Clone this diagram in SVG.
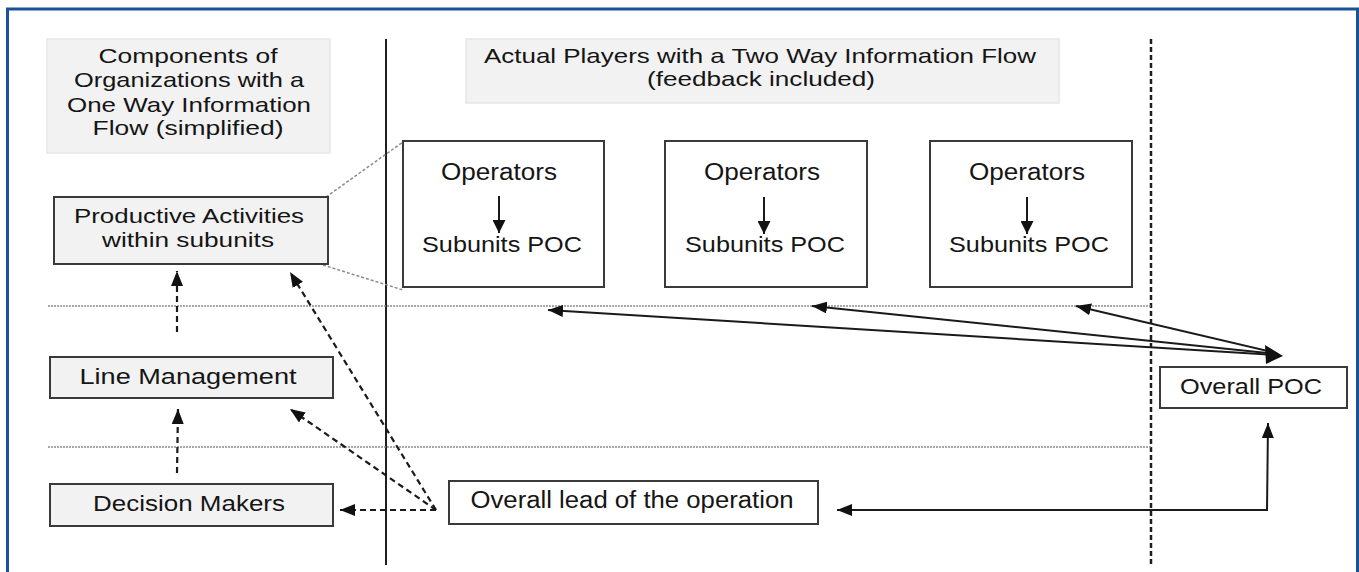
<svg xmlns="http://www.w3.org/2000/svg" width="1359" height="572" viewBox="0 0 1359 572">
<defs>
<style>
text{font-family:"Liberation Sans",Arial,sans-serif;fill:#151515;text-anchor:middle}
.hdr{fill:#f2f2f2;stroke:#e6e6e6;stroke-width:1.5}
.gbox{fill:#f2f2f2;stroke:#3a3a3a;stroke-width:2}
.wbox{fill:#ffffff;stroke:#3a3a3a;stroke-width:2}
.solid{stroke:#1a1a1a;stroke-width:2;fill:none}
.dash{stroke:#1a1a1a;stroke-width:2.2;fill:none;stroke-dasharray:6 4}
.dot{stroke:#8a8a8a;stroke-width:1.5;stroke-dasharray:2 1;fill:none}
.zoom{stroke:#8a8a8a;stroke-width:1.5;stroke-dasharray:3 2;fill:none}
</style>
<marker id="ah" viewBox="0 0 15 12" refX="15" refY="6" markerWidth="15" markerHeight="12" markerUnits="userSpaceOnUse" orient="auto">
<path d="M0,0 L15,6 L0,12 Z" fill="#111"/>
</marker>
<marker id="ahs" viewBox="0 0 13 13" refX="13" refY="6.5" markerWidth="13" markerHeight="13" markerUnits="userSpaceOnUse" orient="auto">
<path d="M0,0 L13,6.5 L0,13 Z" fill="#111"/>
</marker>
</defs>
<rect x="0" y="0" width="1359" height="572" fill="#ffffff"/>
<!-- frame -->
<path d="M7.5,580 L7.5,9 L1357.5,9 L1357.5,580" fill="none" stroke="#1a5296" stroke-width="3"/>

<!-- guide lines -->
<g id="guides">
<line x1="386" y1="39" x2="386" y2="565" stroke="#1e1e1e" stroke-width="2"/>
<line x1="1151" y1="39" x2="1151" y2="565" stroke="#1e1e1e" stroke-width="2.5" stroke-dasharray="5 3"/>
<line class="dot" x1="48" y1="306" x2="1151" y2="306"/>
<line class="dot" x1="48" y1="447" x2="1151" y2="447"/>
<line class="zoom" x1="326" y1="197" x2="403" y2="142"/>
<line class="zoom" x1="323" y1="265" x2="403" y2="290"/>
</g>

<!-- headers -->
<g id="header-left">
<rect class="hdr" x="47" y="39" width="283" height="114"/>
<text x="188" y="63" font-size="21" textLength="179" lengthAdjust="spacingAndGlyphs">Components of</text>
<text x="189" y="87" font-size="21" textLength="230" lengthAdjust="spacingAndGlyphs">Organizations with a</text>
<text x="189" y="112" font-size="21" textLength="244" lengthAdjust="spacingAndGlyphs">One Way Information</text>
<text x="188" y="135" font-size="21" textLength="191" lengthAdjust="spacingAndGlyphs">Flow (simplified)</text>
</g>
<g id="header-right">
<rect class="hdr" x="466" y="39" width="593" height="64"/>
<text x="760" y="63" font-size="21" textLength="552" lengthAdjust="spacingAndGlyphs">Actual Players with a Two Way Information Flow</text>
<text x="761" y="86" font-size="21" textLength="228" lengthAdjust="spacingAndGlyphs">(feedback included)</text>
</g>

<!-- left nodes -->
<g id="productive">
<rect class="gbox" x="54" y="197" width="274" height="67"/>
<text x="189" y="223" font-size="21" textLength="230" lengthAdjust="spacingAndGlyphs">Productive Activities</text>
<text x="188" y="247" font-size="21" textLength="172" lengthAdjust="spacingAndGlyphs">within subunits</text>
</g>
<g id="line-management">
<rect class="gbox" x="50" y="357" width="283" height="41"/>
<text x="188" y="384" font-size="22" textLength="217" lengthAdjust="spacingAndGlyphs">Line  Management</text>
</g>
<g id="decision-makers">
<rect class="gbox" x="50" y="484" width="283" height="42"/>
<text x="189" y="511" font-size="22" textLength="192" lengthAdjust="spacingAndGlyphs">Decision Makers</text>
</g>

<!-- operator boxes -->
<g id="op1">
<rect class="wbox" x="403" y="141" width="201" height="146"/>
<text x="499" y="180" font-size="23" textLength="116" lengthAdjust="spacingAndGlyphs">Operators</text>
<line class="solid" x1="499" y1="196" x2="499" y2="233" marker-end="url(#ahs)"/>
<text x="502" y="252" font-size="22" textLength="160" lengthAdjust="spacingAndGlyphs">Subunits POC</text>
</g>
<g id="op2">
<rect class="wbox" x="665" y="141" width="202" height="146"/>
<text x="762" y="180" font-size="23" textLength="116" lengthAdjust="spacingAndGlyphs">Operators</text>
<line class="solid" x1="764" y1="197" x2="764" y2="234" marker-end="url(#ahs)"/>
<text x="765" y="252" font-size="22" textLength="160" lengthAdjust="spacingAndGlyphs">Subunits POC</text>
</g>
<g id="op3">
<rect class="wbox" x="930" y="141" width="202" height="146"/>
<text x="1027" y="180" font-size="23" textLength="116" lengthAdjust="spacingAndGlyphs">Operators</text>
<line class="solid" x1="1027" y1="197" x2="1027" y2="234" marker-end="url(#ahs)"/>
<text x="1029" y="252" font-size="22" textLength="160" lengthAdjust="spacingAndGlyphs">Subunits POC</text>
</g>

<!-- right nodes -->
<g id="overall-poc">
<rect class="wbox" x="1160" y="367" width="187" height="41"/>
<text x="1251" y="394" font-size="22" textLength="142" lengthAdjust="spacingAndGlyphs">Overall POC</text>
</g>
<g id="overall-lead">
<rect class="wbox" x="449" y="481" width="369" height="43"/>
<text x="632" y="508" font-size="23" textLength="323" lengthAdjust="spacingAndGlyphs">Overall lead of the operation</text>
</g>

<!-- connectors -->
<g id="connectors">
<line class="dash" x1="177" y1="332" x2="177" y2="271" marker-end="url(#ah)"/>
<line class="dash" x1="177" y1="473" x2="178" y2="409" marker-end="url(#ah)"/>
<line class="dash" x1="436" y1="510" x2="340" y2="510" marker-end="url(#ah)"/>
<line class="dash" x1="436" y1="510" x2="290" y2="409" marker-end="url(#ah)"/>
<line class="dash" x1="436" y1="510" x2="290" y2="272" marker-end="url(#ah)"/>
<line class="solid" x1="1276" y1="355" x2="548" y2="310" marker-end="url(#ah)"/>
<line class="solid" x1="1276" y1="354" x2="812" y2="306" marker-end="url(#ah)"/>
<line class="solid" x1="1276" y1="353" x2="1076" y2="306" marker-end="url(#ah)"/>
<path d="M1283,356 L1265,345 L1266,364 Z" fill="#111"/>
<polyline class="solid" points="1267,510 1268,423" marker-end="url(#ah)"/>
<polyline class="solid" points="1268,510 837,510" marker-end="url(#ah)"/>
</g>
</svg>
